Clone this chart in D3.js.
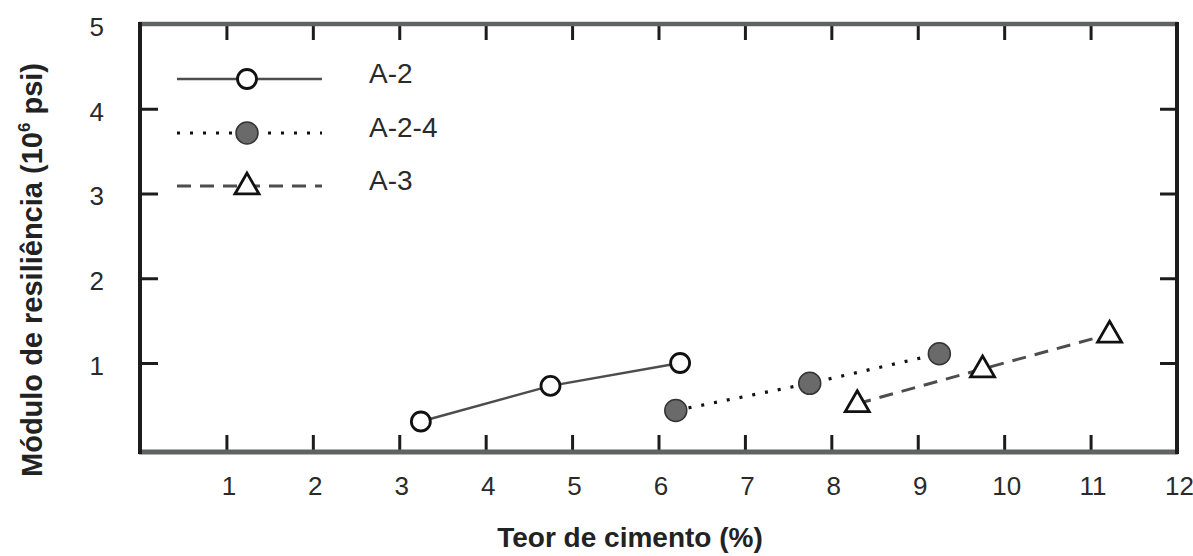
<!DOCTYPE html>
<html>
<head>
<meta charset="utf-8">
<script src="https://cdn.jsdelivr.net/npm/d3@7"></script>
<style>
  html, body { margin: 0; padding: 0; background: #fff; }
  svg { display: block; font-family: Arial, "Liberation Sans", sans-serif; }
</style>
</head>
<body>
<svg id="chart" width="1193" height="556"></svg>
<script>
// Cement content (%) vs resilient modulus (10^6 psi) for three soil groups
const seriesNames = ["A-2", "A-2-4", "A-3"];
const a2X = [3.25, 4.75, 6.25];
const a2Y = [0.31, 0.73, 1.00];
const a24X = [6.2, 7.75, 9.25];
const a24Y = [0.44, 0.76, 1.11];
const a3X = [8.3, 9.75, 11.22];
const a3Y = [0.52, 0.93, 1.34];
const xTickLabels = [1, 2, 3, 4, 5, 6, 7, 8, 9, 10, 11, 12];
const xTickMarks = [1, 2, 3, 4, 5, 6, 7, 8, 9, 10, 11];
const yTickLabels = [1, 2, 3, 4, 5];
const yTickMarks = [1, 2, 3, 4];

const svg = d3.select("#chart");
const plotLeft = 140, plotRight = 1177, plotTop = 24, plotBottom = 452;

const x = d3.scaleLinear().domain([0, 12]).range([plotLeft, plotRight]);
const y = d3.scaleLinear().domain([-0.05, 5]).range([plotBottom, plotTop]);

const ink = "#1c1c1c";
const lineGrey = "#4d4d4d";
const frameGrey = "#5f6462";
const fontStack = "Arial, 'Liberation Sans', sans-serif";

// tick marks pointing inward on all four sides
function styleTicks(g) {
  g.select(".domain").remove();
  g.selectAll(".tick line").attr("stroke", ink).attr("stroke-width", 3);
  g.selectAll(".tick text").remove();
}
svg.append("g").attr("transform", `translate(0,${plotBottom})`)
  .call(d3.axisBottom(x).tickValues(xTickMarks).tickSize(-17)).call(styleTicks);
svg.append("g").attr("transform", `translate(0,${plotTop})`)
  .call(d3.axisTop(x).tickValues(xTickMarks).tickSize(-16)).call(styleTicks);
svg.append("g").attr("transform", `translate(${plotLeft},0)`)
  .call(d3.axisLeft(y).tickValues(yTickMarks).tickSize(-18)).call(styleTicks);
svg.append("g").attr("transform", `translate(${plotRight},0)`)
  .call(d3.axisRight(y).tickValues(yTickMarks).tickSize(-17)).call(styleTicks);

// tick labels
function styleLabels(g) {
  g.attr("font-family", fontStack).attr("font-size", 26);
  g.select(".domain").remove();
  g.selectAll(".tick line").remove();
  g.selectAll(".tick text").attr("fill", "#2a2a2a");
}
svg.append("g").attr("transform", `translate(2,${plotBottom})`)
  .call(d3.axisBottom(x).tickValues(xTickLabels).tickFormat(d3.format("d")).tickSize(0).tickPadding(25))
  .call(styleLabels);
svg.append("g").attr("transform", `translate(${plotLeft},3)`)
  .call(d3.axisLeft(y).tickValues(yTickLabels).tickFormat(d3.format("d")).tickSize(0).tickPadding(36))
  .call(styleLabels);

// frame: grey top/bottom, black sides
svg.append("line").attr("x1", plotLeft - 1).attr("x2", plotRight + 1).attr("y1", plotTop).attr("y2", plotTop)
  .attr("stroke", frameGrey).attr("stroke-width", 4.5);
svg.append("line").attr("x1", plotLeft - 1).attr("x2", plotRight + 1).attr("y1", plotBottom).attr("y2", plotBottom)
  .attr("stroke", frameGrey).attr("stroke-width", 5);
svg.append("line").attr("x1", plotLeft).attr("x2", plotLeft).attr("y1", plotTop - 2).attr("y2", plotBottom + 2)
  .attr("stroke", ink).attr("stroke-width", 4);
svg.append("line").attr("x1", plotRight).attr("x2", plotRight).attr("y1", plotTop - 2).attr("y2", plotBottom + 2)
  .attr("stroke", ink).attr("stroke-width", 4);

// axis titles
svg.append("text").attr("x", 630).attr("y", 547).attr("text-anchor", "middle")
  .attr("font-size", 28).attr("font-weight", "bold").attr("fill", "#222")
  .text("Teor de cimento (%)");
const yTitle = svg.append("text")
  .attr("transform", "translate(42,270) rotate(-90)")
  .attr("text-anchor", "middle").attr("font-size", 29).attr("font-weight", "bold").attr("fill", "#222");
yTitle.append("tspan").text("Módulo de resiliência (10");
yTitle.append("tspan").attr("font-size", 17).attr("dy", -12).text("6");
yTitle.append("tspan").attr("dy", 12).text(" psi)");

// series definitions
const series = [
  { name: seriesNames[0], xs: a2X, ys: a2Y, dash: null, stroke: lineGrey, width: 2.5, marker: "open" },
  { name: seriesNames[1], xs: a24X, ys: a24Y, dash: "3,10", stroke: "#111", width: 3.2, marker: "filled" },
  { name: seriesNames[2], xs: a3X, ys: a3Y, dash: "14,9", stroke: lineGrey, width: 3, marker: "tri" }
];

const line = d3.line().x(d => x(d[0])).y(d => y(d[1]));
const tri = d3.symbol().type(d3.symbolTriangle).size(250);

function drawMarker(g, m, cx, cy) {
  if (m === "open") {
    g.append("circle").attr("cx", cx).attr("cy", cy).attr("r", 9.5)
      .attr("fill", "#fff").attr("stroke", "#111").attr("stroke-width", 2.8);
  } else if (m === "filled") {
    g.append("circle").attr("cx", cx).attr("cy", cy).attr("r", 11)
      .attr("fill", "#6a6a6a").attr("stroke", "#333").attr("stroke-width", 1.5);
  } else {
    g.append("path").attr("d", tri).attr("transform", `translate(${cx},${cy + 1})`)
      .attr("fill", "#fff").attr("stroke", "#111").attr("stroke-width", 2.8);
  }
}

const plot = svg.append("g");
series.forEach(s => {
  const pts = s.xs.map((v, i) => [v, s.ys[i]]);
  plot.append("path").attr("d", line(pts)).attr("fill", "none")
    .attr("stroke", s.stroke).attr("stroke-width", s.width)
    .attr("stroke-dasharray", s.dash);
  pts.forEach(p => drawMarker(plot, s.marker, x(p[0]), y(p[1])));
});

// legend
const legendY = [79, 133, 186];
const legend = svg.append("g");
series.forEach((s, i) => {
  const ly = legendY[i];
  legend.append("line").attr("x1", 177).attr("x2", 322).attr("y1", ly).attr("y2", ly)
    .attr("stroke", s.stroke).attr("stroke-width", s.width)
    .attr("stroke-dasharray", s.dash);
  drawMarker(legend, s.marker, 247, ly);
  legend.append("text").attr("x", 369).attr("y", ly + 4)
    .attr("font-size", 28).attr("fill", "#2a2a2a").text(s.name);
});
</script>
</body>
</html>
